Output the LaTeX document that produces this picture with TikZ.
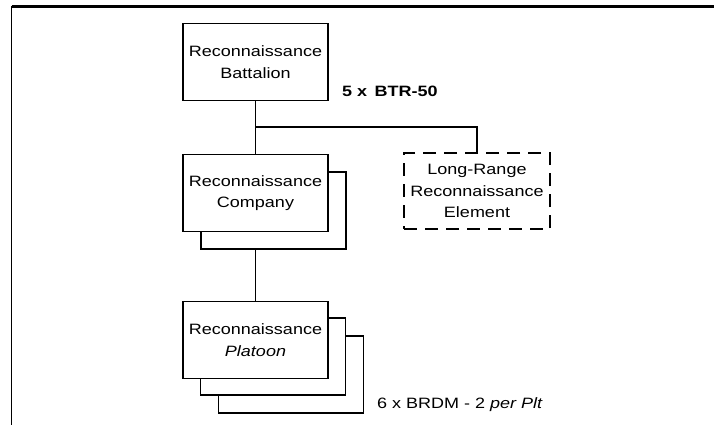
\documentclass[tikz,border=0pt]{standalone}
\usepackage{fontspec}
\setmainfont[FakeStretch=1.2]{Liberation Sans}
\begin{document}
\begin{tikzpicture}[x=1pt,y=-1pt,
  unitbox/.style={draw,line width=1.1pt,fill=white,minimum width=145pt,minimum height=77pt,inner sep=0pt,align=center,font=\fontsize{15}{21.5}\selectfont},
  shadowbox/.style={draw,line width=1.1pt,fill=white,minimum width=145pt,minimum height=77pt,inner sep=0pt},
  dashbox/.style={draw,line width=1.1pt,dash pattern=on 13pt off 8pt,minimum width=146pt,minimum height=76pt,inner sep=0pt,align=center,font=\fontsize{15}{21.5}\selectfont},
  link/.style={line width=1.1pt},
  thicklink/.style={line width=2.5pt},
  lbl/.style={inner sep=0pt,font=\fontsize{15}{18}\selectfont}]
\useasboundingbox (0,0) rectangle (714,425);
\fill[white] (0,0) rectangle (714,425);
% frame
\coordinate (fc) at (11.5,6.5);
\coordinate (fr) at (714,6.5);
\coordinate (fb) at (11.5,425);
\draw[line width=2.5pt] (fc) -- (fr);
\draw[line width=1.5pt] (fc) -- (fb);
% battalion
\node[unitbox] (bn) at (255.5,62) {Reconnaissance\\Battalion};
\node[lbl,anchor=base west,font=\fontsize{15}{18}\selectfont\bfseries] (btr) at (342,97) {5 x\, BTR-50};
% company
\node[shadowbox] (cosh) at (273.5,210.5) {};
\node[unitbox] (co) at (255.5,193) {Reconnaissance\\Company};
% LRRE
\node[dashbox] (lrre) at (477,191) {Long-Range\\Reconnaissance\\Element};
% platoons
\node[shadowbox] (plsh2) at (291,374.5) {};
\node[shadowbox] (plsh1) at (273,356.5) {};
\node[unitbox] (pl) at (255.5,340) {Reconnaissance\\\textit{Platoon}};
\node[lbl,anchor=base west] (brdm) at (377,408) {6 x BRDM - 2 \textit{per Plt}};
% connectors
\coordinate (br) at (255.5,127);
\draw[link] (bn.south) -- (co.north);
\draw[thicklink] (br) -| (lrre.north);
\draw[link] (co.south |- cosh.south) -- (pl.north);
\end{tikzpicture}
\end{document}
